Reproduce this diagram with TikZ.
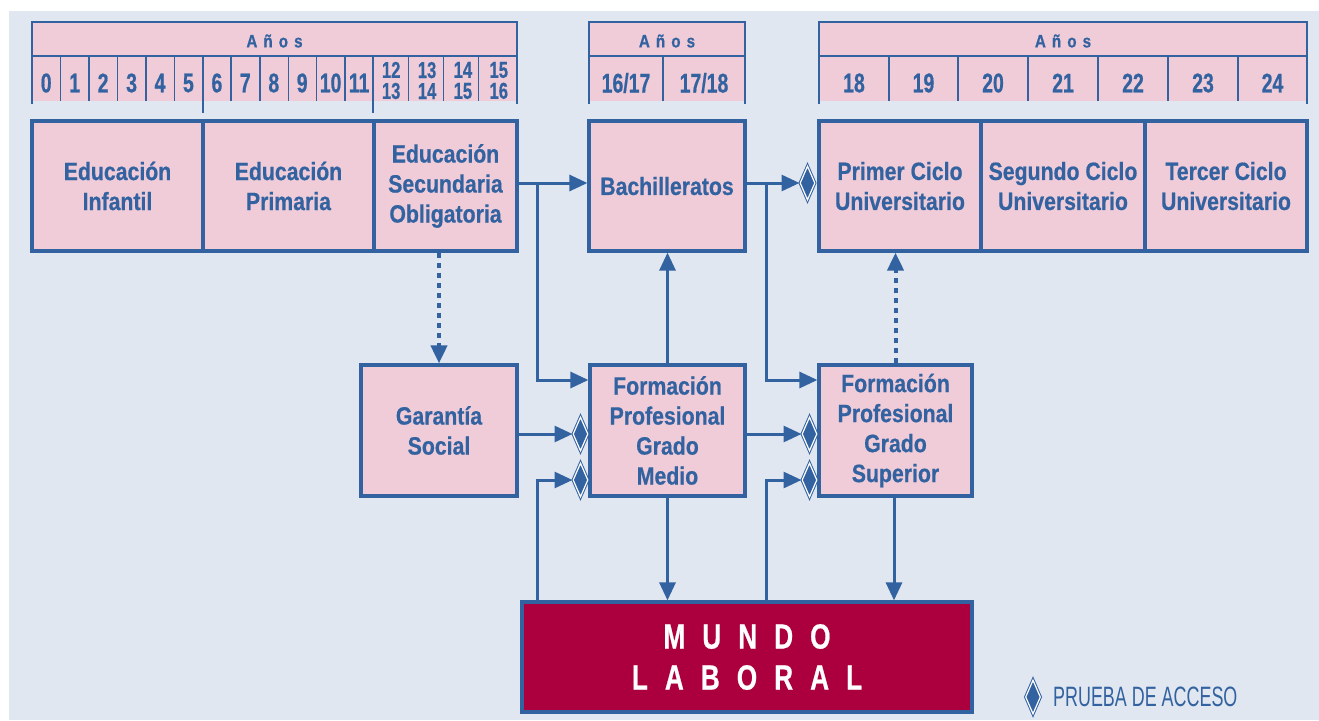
\documentclass[tikz,border=0pt]{standalone}
\usepackage{fontspec}
\setmainfont{Liberation Sans}
\newfontfamily\boxfont{Liberation Sans}[FakeStretch=0.85, BoldFeatures={FakeBold=0.6}]
\newfontfamily\numfont{Liberation Sans}[FakeStretch=0.72, BoldFeatures={FakeBold=0.6}]
\newfontfamily\mundofont{Liberation Sans}[FakeStretch=0.75, BoldFeatures={FakeBold=0.6}]
\newfontfamily\legfont{Liberation Sans}[FakeStretch=0.64]
\usetikzlibrary{shapes.geometric,arrows.meta}
\definecolor{bgblue}{HTML}{E0E7F1}
\definecolor{lblue}{HTML}{3362A0}
\definecolor{pinkf}{HTML}{EFCCD8}
\definecolor{mred}{HTML}{AB003D}
\tikzset{
  box/.style={draw=lblue, fill=pinkf, line width=3.2pt, inner sep=0pt, text=lblue,
    font=\boxfont\bfseries\fontsize{25}{30}\selectfont, align=center},
  mundobox/.style={draw=lblue, fill=mred, line width=3.2pt, inner sep=0pt, text=white,
    font=\mundofont\bfseries\fontsize{35}{41}\selectfont, align=center},
  num/.style={inner sep=0pt, text=lblue, font=\numfont\bfseries\fontsize{27}{27}\selectfont},
  numtwo/.style={inner sep=0pt, text=lblue, align=center, font=\numfont\bfseries\fontsize{23}{21}\selectfont},
  anos/.style={inner sep=0pt, text=lblue, font=\boxfont\bfseries\fontsize{18}{18}\selectfont},
  legtext/.style={inner sep=0pt, text=lblue, font=\legfont\fontsize{28}{28}\selectfont},
  pdiam/.style={diamond, draw=lblue, fill=lblue, line width=1pt, double=white,
    double distance=1.2pt, minimum width=15pt, minimum height=34pt, inner sep=0pt},
  conn/.style={draw=lblue, line width=3pt, -{Triangle[length=18pt,width=16pt]}},
  dotconn/.style={draw=lblue, line width=4pt, dash pattern=on 5pt off 5pt,
    -{Triangle[length=18pt,width=16pt]}},
  hdrout/.style={draw=lblue, line width=2.7pt},
  hdrsep/.style={draw=lblue, line width=2.3pt},
  hdrdiv/.style={draw=lblue, line width=1.3pt},
  hdrmain/.style={draw=lblue, line width=2pt}
}
\newcommand{\ls}{\hspace{17pt}}
\newcommand{\as}{\hspace{6pt}}
\begin{document}
\begin{tikzpicture}[x=1pt,y=-1pt]
\useasboundingbox (0,0) rectangle (1319,720);
\fill[bgblue] (9,11) rectangle (1319,720);

% ---------- Header 1 ----------
\fill[pinkf] (32,22) rectangle (517,101);
\draw[hdrsep] (32,56) -- (517,56);
\foreach \x in {60.7,89,117.7,146,174.3,231,260,288.3,316.7,345,408.3,443.3,478.3}
  \draw[hdrdiv] (\x,56) -- (\x,101);
\foreach \x in {202.7,373.3} \draw[hdrmain] (\x,56) -- (\x,113);
\draw[hdrout] (32,104) -- (32,22) -- (517,22) -- (517,104);
\node[anos] (anosA) at (274.5,41) {A\as ñ\as o\as s};
\foreach \n/\x in {0/46.2,1/74.7,2/103.1,3/131.6,4/160,5/188.4,6/216.9,7/245.3,8/273.8,9/302.2,10/330.6,11/359.1}
  \node[num] (n\n) at (\x,83) {\n};
\node[numtwo] (nA) at (391.2,80.5) {12\\13};
\node[numtwo] (nB) at (427.1,80.5) {13\\14};
\node[numtwo] (nC) at (462.9,80.5) {14\\15};
\node[numtwo] (nD) at (498.8,80.5) {15\\16};

% ---------- Header 2 ----------
\fill[pinkf] (589,22) rectangle (745,101);
\draw[hdrsep] (589,56) -- (745,56);
\draw[hdrdiv] (663,56) -- (663,101);
\draw[hdrout] (589,104) -- (589,22) -- (745,22) -- (745,104);
\node[anos] (anosB) at (667,41) {A\as ñ\as o\as s};
\node[num] (m1) at (626,83) {16/17};
\node[num] (m2) at (704,83) {17/18};

% ---------- Header 3 ----------
\fill[pinkf] (819,22) rectangle (1307,101);
\draw[hdrsep] (819,56) -- (1307,56);
\foreach \x in {889,958,1028,1098,1168,1238}
  \draw[hdrdiv] (\x,56) -- (\x,101);
\draw[hdrout] (819,104) -- (819,22) -- (1307,22) -- (1307,104);
\node[anos] (anosC) at (1063,41) {A\as ñ\as o\as s};
\foreach \n/\x in {18/854,19/923.5,20/993,21/1063,22/1133,23/1203,24/1272.5}
  \node[num] (r\n) at (\x,83) {\n};

% ---------- Boxes ----------
\node[box, minimum width=171pt, minimum height=130pt] (inf) at (117.5,186) {Educación\\Infantil};
\node[box, minimum width=171pt, minimum height=130pt] (pri) at (288.5,186) {Educación\\Primaria};
\node[box, minimum width=143pt, minimum height=130pt] (sec) at (445.5,186) {Educación\\Secundaria\\Obligatoria};
\node[box, minimum width=156pt, minimum height=130pt] (bach) at (667,186) {Bachilleratos};
\node[box, minimum width=162pt, minimum height=130pt] (pc) at (900,186) {Primer Ciclo\\Universitario};
\node[box, minimum width=164pt, minimum height=130pt] (sc) at (1063,186) {Segundo Ciclo\\Universitario};
\node[box, minimum width=162pt, minimum height=130pt] (tc) at (1226,186) {Tercer Ciclo\\Universitario};
\node[box, minimum width=156pt, minimum height=131pt] (gar) at (439,430.5) {Garantía\\Social};
\node[box, minimum width=155pt, minimum height=131pt] (fpm) at (667.5,430.5) {Formación\\Profesional\\Grado\\Medio};
\node[box, minimum width=153pt, minimum height=131pt] (fps) at (895.5,430.5) {Formación\\Profesional\\Grado\\Superior};
\node[mundobox, minimum width=450pt, minimum height=110pt] (mundo) at (747,657) {M\ls U\ls N\ls D\ls O\\L\ls A\ls B\ls O\ls R\ls A\ls L};

% ---------- Access-test diamonds ----------
\node[pdiam] (dA) at (807.5,183) {};
\node[pdiam] (dG1) at (580.5,434) {};
\node[pdiam] (dG2) at (580.5,480) {};
\node[pdiam] (dS1) at (809.5,434) {};
\node[pdiam] (dS2) at (809.5,480) {};

% ---------- Junctions ----------
\coordinate (rowA) at (0,183);
\coordinate (rowB) at (0,380);
\coordinate (j1) at (537,183);
\coordinate (j2) at (766,183);

% ---------- Connectors ----------
\draw[conn] (sec.east |- rowA) -- (bach.west |- rowA);
\draw[conn] (j1) |- (fpm.west |- rowB);
\draw[conn] (bach.east |- dA) -- (dA.west);
\draw[conn] (j2) |- (fps.west |- rowB);
\draw[conn] (fpm.north) -- (fpm.north |- bach.south);
\draw[dotconn] (gar.north |- sec.south) -- (gar.north);
\draw[dotconn] (fps.north) -- (fps.north |- pc.south);
\draw[conn] (gar.east |- dG1) -- (dG1.west);
\draw[conn] (mundo.north -| j1) |- (dG2.west);
\draw[conn] (fpm.east |- dS1) -- (dS1.west);
\draw[conn] (mundo.north -| j2) |- (dS2.west);
\draw[conn] (fpm.south) -- (fpm.south |- mundo.north);
\draw[conn] ([xshift=-1.5pt]fps.south) -- ([xshift=-1.5pt]fps.south |- mundo.north);

% ---------- Legend ----------
\node[pdiam] (dL) at (1033,697) {};
\node[legtext, anchor=west] (legt) at (1053,697) {PRUEBA DE ACCESO};
\end{tikzpicture}
\end{document}
